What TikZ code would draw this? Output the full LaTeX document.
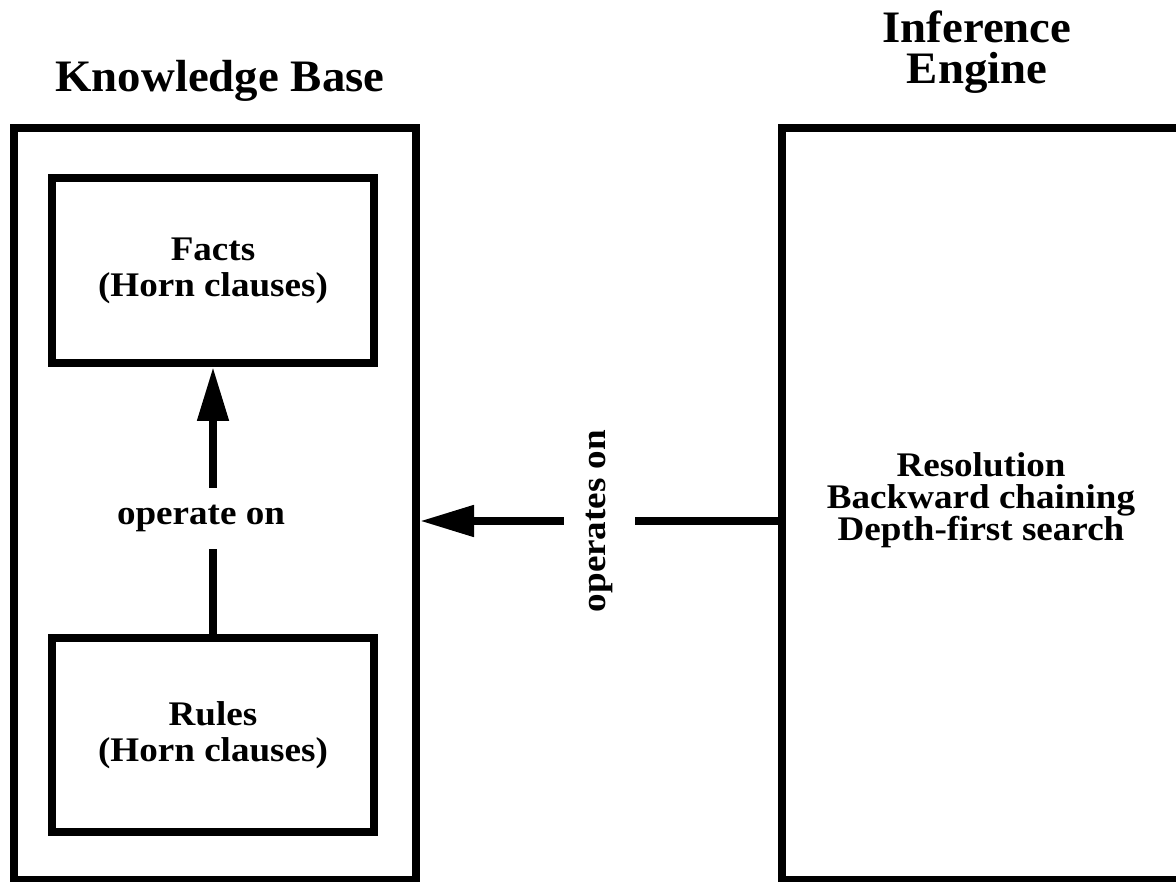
\documentclass[tikz,border=0pt]{standalone}
\usepackage{fontspec}
\setmainfont{Liberation Serif}
\newfontfamily\bodyfont[FakeStretch=1.075]{Liberation Serif}
\newfontfamily\headfont[FakeStretch=1.04]{Liberation Serif}
\usetikzlibrary{arrows.meta}
\tikzset{
  frame/.style={draw=black, line width=8pt, inner sep=0pt},
  bodytext/.style={font=\bodyfont\fontsize{34.5}{36}\selectfont\bfseries, align=center},
  titletext/.style={font=\headfont\fontsize{45}{41.5}\selectfont\bfseries, align=center},
  enginetext/.style={font=\bodyfont\fontsize{34.5}{32}\selectfont\bfseries, align=center},
  connarrow/.style={line width=8pt, -{Triangle[length=54pt,width=30pt]}},
  gaplabel/.style={fill=white, inner sep=0pt},
}
\begin{document}
\begin{tikzpicture}[x=1pt,y=-1pt]
\useasboundingbox (0,0) rectangle (1176,882);
\clip (0,0) rectangle (1176,882);
% boxes
\node[frame, minimum width=402pt, minimum height=752pt] (kb) at (215,504) {};
\node[frame, minimum width=322pt, minimum height=185pt, bodytext] (facts) at (213,270.5) {Facts\\(Horn clauses)};
\node[frame, minimum width=322pt, minimum height=194pt, bodytext] (rules) at (213,735) {Rules\\(Horn clauses)};
\node[frame, minimum width=438pt, minimum height=752pt] (ie) at (1001,504) {};
% titles
\node[titletext, anchor=base] (kbtitle) at (220,91.7) {Knowledge Base};
\node[titletext] (ietitle) at (977,52) {Inference\\Engine};
% engine contents
\node[enginetext] (ietext) at (981,500) {Resolution\\Backward chaining\\Depth-first search};
% connectors
\draw[connarrow] (rules.north) -- node[pos=0.4326, gaplabel, minimum height=61pt, xshift=-12pt, bodytext] (opon) {operate on} (facts.south);
\coordinate (arrowy) at (0,521);
\draw[connarrow] (ie.west |- arrowy) -- node[pos=0.5, gaplabel, minimum height=71pt, rotate=90, bodytext] (opson) {operates on} (kb.east |- arrowy);
\end{tikzpicture}
\end{document}
